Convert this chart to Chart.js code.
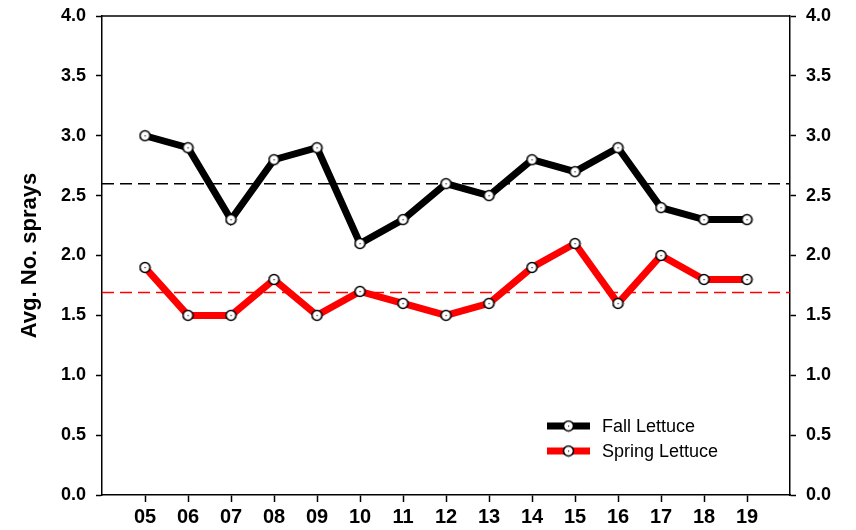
<!DOCTYPE html>
<html>
<head>
<meta charset="utf-8">
<script src="https://cdn.jsdelivr.net/npm/chart.js@4/dist/chart.umd.min.js"></script>
<style>
  html, body { margin: 0; padding: 0; background: #fff; }
  #wrap { width: 856px; height: 530px; }
</style>
</head>
<body>
<div id="wrap"><canvas id="myChart"></canvas></div>
<script>
// seasons (years)
var years = ["05", "06", "07", "08", "09", "10", "11", "12", "13", "14", "15", "16", "17", "18", "19"];
var fallLettuce = [3.0, 2.9, 2.3, 2.8, 2.9, 2.1, 2.3, 2.6, 2.5, 2.8, 2.7, 2.9, 2.4, 2.3, 2.3];
var springLettuce = [1.9, 1.5, 1.5, 1.8, 1.5, 1.7, 1.6, 1.5, 1.6, 1.9, 2.1, 1.6, 2.0, 1.8, 1.8];
var fallMean = 2.6;
var springMean = 1.69;
var yTicks = [0, 0.5, 1, 1.5, 2, 2.5, 3, 3.5, 4];

var FONT = "'Liberation Sans', Arial, sans-serif";

// marker: white circle with a tiny dot in the middle
var marker = document.createElement("canvas");
marker.width = 13;
marker.height = 13;
var mc = marker.getContext("2d");
mc.beginPath();
mc.arc(6.5, 6.5, 5, 0, Math.PI * 2);
mc.fillStyle = "#fff";
mc.fill();
mc.lineWidth = 1.6;
mc.strokeStyle = "#000";
mc.stroke();
mc.fillStyle = "#222";
mc.fillRect(6, 6, 1.2, 1.2);

var toPoints = function (arr) {
    return arr.map(function (v, i) { return { x: parseInt(years[i], 10), y: v }; });
};

var xMin = parseInt(years[0], 10) - 1;
var xMax = parseInt(years[years.length - 1], 10) + 1;

var legendPlugin = {
    id: "legendBox",
    afterDraw: function (chart) {
        var ctx = chart.ctx;
        var items = [
            { label: "Fall Lettuce", color: "#000", y: 426 },
            { label: "Spring Lettuce", color: "#ff0000", y: 451 }
        ];
        ctx.save();
        items.forEach(function (it) {
            ctx.strokeStyle = it.color;
            ctx.lineWidth = 7;
            ctx.beginPath();
            ctx.moveTo(547, it.y);
            ctx.lineTo(590, it.y);
            ctx.stroke();
            ctx.drawImage(marker, 562, it.y - 6.5);
            ctx.fillStyle = "#000";
            ctx.font = "18px " + FONT;
            ctx.textBaseline = "middle";
            ctx.fillText(it.label, 602, it.y + 1);
        });
        ctx.restore();
    }
};

var ctx = document.getElementById("myChart").getContext("2d");

var myChart = new Chart(ctx, {
    type: "line",
    data: {
        datasets: [
            {
                label: "Fall mean",
                data: [{ x: xMin, y: fallMean }, { x: xMax, y: fallMean }],
                borderColor: "#000",
                borderWidth: 1.5,
                borderDash: [12, 6],
                pointRadius: 0,
                order: 3
            },
            {
                label: "Spring mean",
                data: [{ x: xMin, y: springMean }, { x: xMax, y: springMean }],
                borderColor: "#ff0000",
                borderWidth: 1.5,
                borderDash: [12, 6],
                pointRadius: 0,
                order: 3
            },
            {
                label: "Fall Lettuce",
                data: toPoints(fallLettuce),
                borderColor: "#000",
                borderWidth: 7,
                pointStyle: marker,
                pointRadius: 6,
                order: 1
            },
            {
                label: "Spring Lettuce",
                data: toPoints(springLettuce),
                borderColor: "#ff0000",
                borderWidth: 7,
                pointStyle: marker,
                pointRadius: 6,
                order: 2
            }
        ]
    },
    options: {
        responsive: true,
        maintainAspectRatio: false,
        animation: false,
        layout: { padding: { top: 16, left: 0, right: 0, bottom: 0 } },
        plugins: {
            legend: { display: false },
            tooltip: { enabled: false }
        },
        scales: {
            x: {
                type: "linear",
                min: xMin,
                max: xMax,
                afterBuildTicks: function (axis) {
                    axis.ticks = years.map(function (y) { return { value: parseInt(y, 10) }; });
                },
                afterFit: function (axis) { axis.height = 35; },
                grid: { drawOnChartArea: false, tickLength: 7, color: "#000", tickWidth: 1.5 },
                border: { display: true, color: "#000", width: 1.5 },
                ticks: {
                    color: "#000",
                    padding: 3,
                    maxRotation: 0,
                    autoSkip: false,
                    font: { family: FONT, size: 20, weight: "bold" },
                    callback: function (v) { return (v < 10 ? "0" : "") + v; }
                }
            },
            y: {
                position: "left",
                min: 0,
                max: 4,
                afterBuildTicks: function (axis) {
                    axis.ticks = yTicks.map(function (v) { return { value: v }; });
                },
                afterFit: function (axis) { axis.width = 102; axis.paddingTop = 0; axis.paddingBottom = 0; },
                grid: { drawOnChartArea: false, tickLength: 6, color: "#000", tickWidth: 1.5 },
                border: { display: true, color: "#000", width: 1.5 },
                title: {
                    display: true,
                    text: "Avg. No. sprays",
                    color: "#000",
                    font: { family: FONT, size: 22, weight: "bold" },
                    padding: { top: 17, bottom: 0 }
                },
                ticks: {
                    color: "#000",
                    padding: 10,
                    font: { family: FONT, size: 18, weight: "bold" },
                    callback: function (v) { return v.toFixed(1); }
                }
            },
            y2: {
                position: "right",
                min: 0,
                max: 4,
                afterBuildTicks: function (axis) {
                    axis.ticks = yTicks.map(function (v) { return { value: v }; });
                },
                afterFit: function (axis) { axis.width = 66; axis.paddingTop = 0; axis.paddingBottom = 0; },
                grid: { drawOnChartArea: false, tickLength: 6, color: "#000", tickWidth: 1.5 },
                border: { display: true, color: "#000", width: 1.5 },
                ticks: {
                    color: "#000",
                    padding: 10,
                    font: { family: FONT, size: 18, weight: "bold" },
                    callback: function (v) { return v.toFixed(1); }
                }
            }
        }
    },
    plugins: [legendPlugin, {
        id: "topBorder",
        afterDraw: function (chart) {
            var a = chart.chartArea;
            var c = chart.ctx;
            c.save();
            c.strokeStyle = "#000";
            c.lineWidth = 1.5;
            c.beginPath();
            c.moveTo(a.left, a.top);
            c.lineTo(a.right, a.top);
            c.stroke();
            c.restore();
        }
    }]
});
</script>
</body>
</html>
